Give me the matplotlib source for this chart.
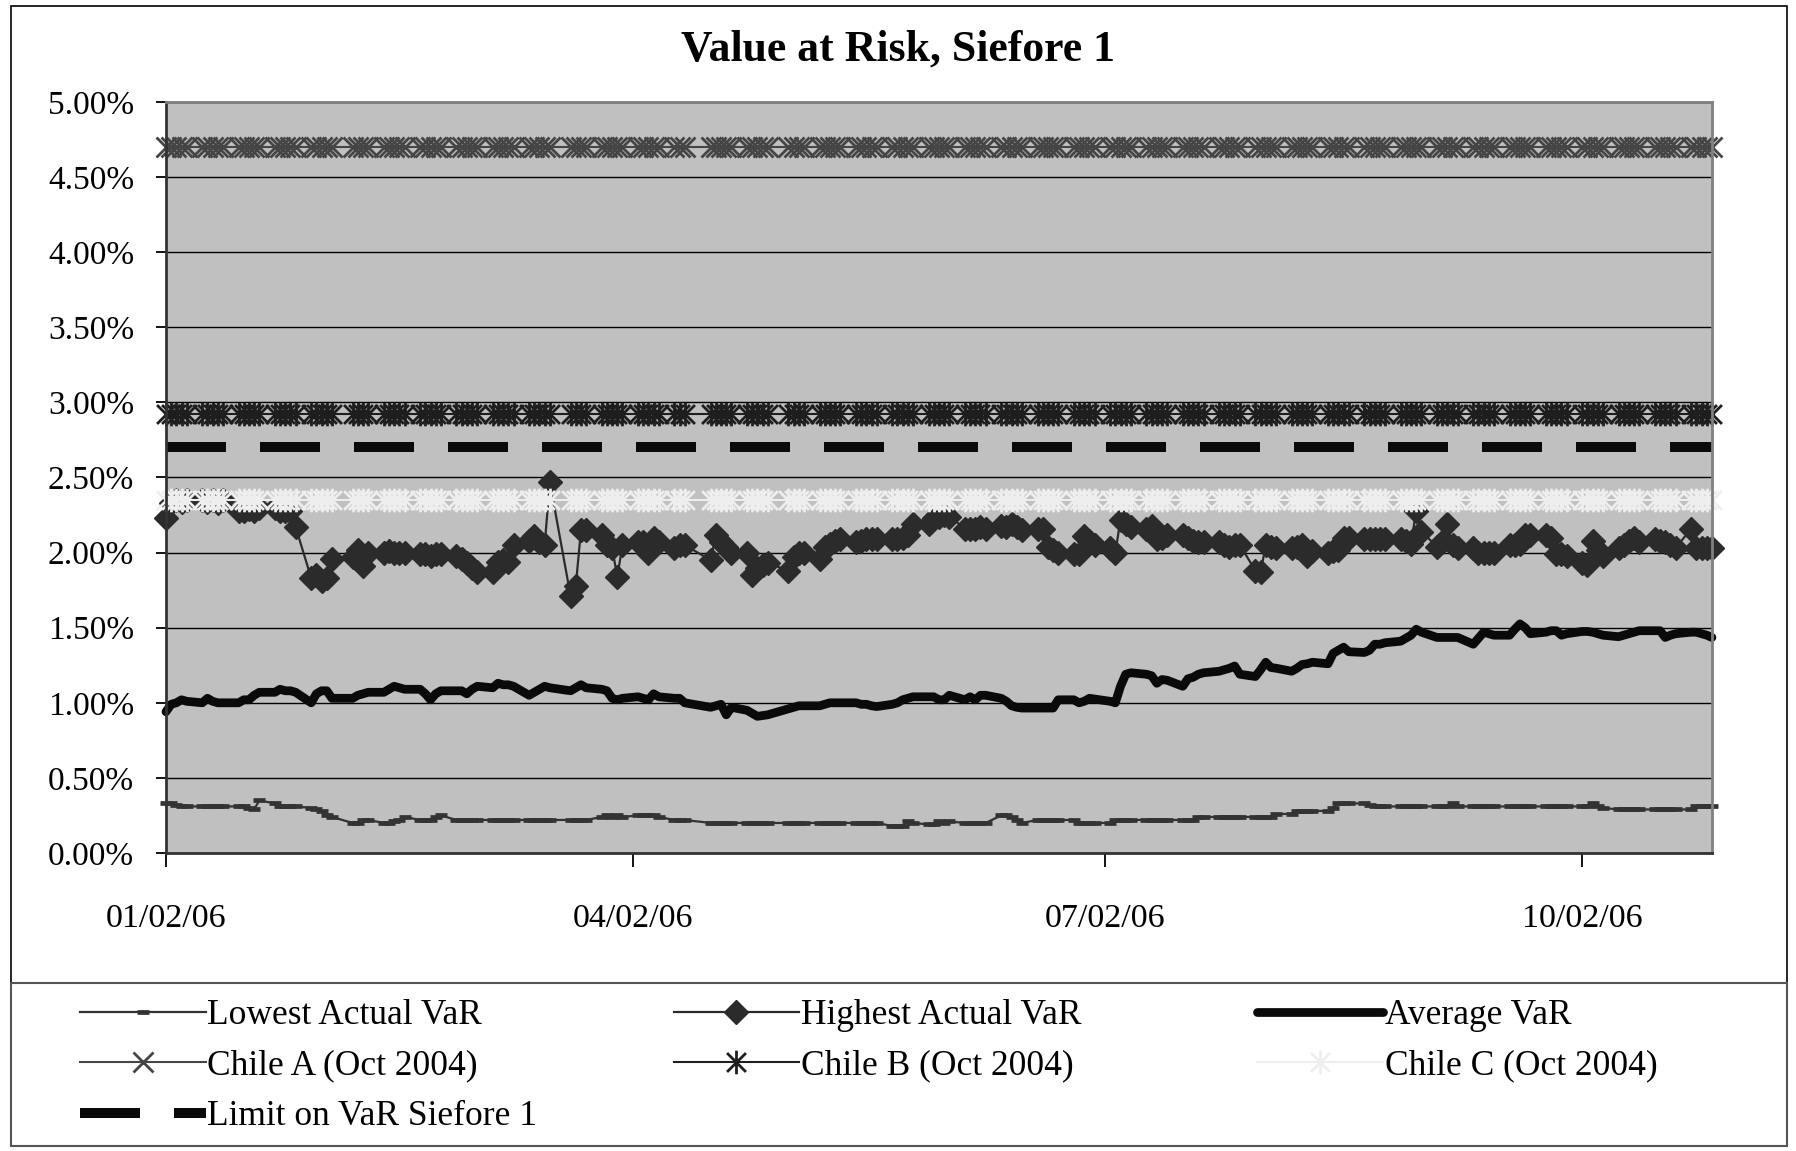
import pandas as pd
import matplotlib
matplotlib.use("Agg")
import matplotlib.pyplot as plt
import matplotlib.dates as mdates
from matplotlib.ticker import PercentFormatter, MultipleLocator
from matplotlib.path import Path
from matplotlib.patches import Rectangle

plt.rcParams['font.family'] = ['Liberation Serif', 'DejaVu Serif']

# trading days, 2006 (market holidays removed)
holidays = ["2006-02-06", "2006-03-20", "2006-04-13", "2006-04-14", "2006-05-01"]
dates = pd.bdate_range("2006-01-02", "2006-10-27")
dates = dates[~dates.isin(pd.to_datetime(holidays))]

# VaR in percent, one row per week
lowest = [
    0.33, 0.33, 0.32, 0.31, 0.31,
    0.31, 0.31, 0.31, 0.31, 0.31,
    0.31, 0.31, 0.30, 0.29, 0.35,
    0.33, 0.31, 0.31, 0.31, 0.31,
    0.30, 0.29, 0.28, 0.25, 0.24,
    0.20, 0.20, 0.22, 0.22,
    0.20, 0.20, 0.21, 0.22, 0.24,
    0.22, 0.22, 0.22, 0.24, 0.25,
    0.22, 0.22, 0.22, 0.22, 0.22,
    0.22, 0.22, 0.22, 0.22, 0.22,
    0.22, 0.22, 0.22, 0.22, 0.22,
    0.22, 0.22, 0.22, 0.22,
    0.24, 0.25, 0.24, 0.25, 0.24,
    0.25, 0.25, 0.25, 0.25, 0.24,
    0.22, 0.22, 0.22,
    0.20, 0.20, 0.20, 0.20, 0.20,
    0.20, 0.20, 0.20, 0.20, 0.20,
    0.20, 0.20, 0.20, 0.20,
    0.20, 0.20, 0.20, 0.20, 0.20,
    0.20, 0.20, 0.20, 0.20, 0.20,
    0.18, 0.18, 0.18, 0.21, 0.20,
    0.19, 0.19, 0.21, 0.20, 0.21,
    0.20, 0.20, 0.20, 0.20, 0.20,
    0.25, 0.25, 0.24, 0.22, 0.20,
    0.22, 0.22, 0.22, 0.22, 0.22,
    0.22, 0.20, 0.20, 0.20, 0.20,
    0.20, 0.22, 0.22, 0.22, 0.22,
    0.22, 0.22, 0.22, 0.22, 0.22,
    0.22, 0.22, 0.22, 0.24, 0.24,
    0.24, 0.24, 0.24, 0.24, 0.24,
    0.24, 0.24, 0.24, 0.24, 0.26,
    0.26, 0.28, 0.28, 0.28, 0.28,
    0.28, 0.30, 0.33, 0.33, 0.33,
    0.33, 0.32, 0.31, 0.31, 0.31,
    0.31, 0.31, 0.31, 0.31, 0.31,
    0.31, 0.31, 0.31, 0.33, 0.31,
    0.31, 0.31, 0.31, 0.31, 0.31,
    0.31, 0.31, 0.31, 0.31, 0.31,
    0.31, 0.31, 0.31, 0.31, 0.31,
    0.31, 0.31, 0.33, 0.31, 0.30,
    0.29, 0.29, 0.29, 0.29, 0.29,
    0.29, 0.29, 0.29, 0.29, 0.29,
    0.29, 0.31, 0.31, 0.31, 0.31,
]

highest = [
    2.23, 2.33, 2.35, 2.34, 2.35,
    2.35, 2.34, 2.35, 2.33, 2.35,
    2.28, 2.28, 2.29, 2.28, 2.30,
    2.30, 2.28, 2.28, 2.28, 2.17,
    1.83, 1.85, 1.81, 1.83, 1.96,
    1.97, 2.02, 1.91, 2.00,
    2.00, 2.01, 2.00, 2.00, 2.00,
    1.99, 1.99, 1.98, 1.99, 1.99,
    1.98, 1.96, 1.93, 1.90, 1.87,
    1.87, 1.94, 1.95, 1.94, 2.05,
    2.08, 2.11, 2.07, 2.05, 2.47,
    1.71, 1.78, 2.15, 2.15,
    2.12, 2.05, 2.03, 1.84, 2.05,
    2.07, 2.07, 2.00, 2.10, 2.07,
    2.03, 2.05, 2.05,
    1.95, 2.12, 2.07, 2.04, 2.00,
    2.00, 1.85, 1.90, 1.92, 1.93,
    1.88, 1.97, 2.00, 2.00,
    1.96, 2.04, 2.06, 2.08, 2.09,
    2.07, 2.08, 2.09, 2.09, 2.09,
    2.09, 2.09, 2.10, 2.12, 2.19,
    2.19, 2.23, 2.24, 2.25, 2.24,
    2.16, 2.16, 2.16, 2.17, 2.16,
    2.18, 2.17, 2.19, 2.17, 2.15,
    2.16, 2.16, 2.04, 2.02, 2.00,
    1.99, 1.99, 2.11, 2.08, 2.05,
    2.03, 2.00, 2.22, 2.19, 2.17,
    2.16, 2.18, 2.09, 2.10, 2.12,
    2.12, 2.10, 2.08, 2.07, 2.07,
    2.07, 2.05, 2.04, 2.05, 2.05,
    1.88, 1.87, 2.05, 2.04, 2.03,
    2.03, 2.04, 2.05, 1.98, 2.01,
    2.00, 2.01, 2.02, 2.10, 2.10,
    2.09, 2.09, 2.09, 2.09, 2.09,
    2.09, 2.08, 2.06, 2.28, 2.14,
    2.04, 2.07, 2.19, 2.05, 2.03,
    2.03, 2.00, 2.00, 2.00, 2.00,
    2.05, 2.05, 2.06, 2.12, 2.12,
    2.12, 2.10, 1.99, 1.99, 1.98,
    1.93, 1.92, 2.08, 2.02, 1.98,
    2.03, 2.05, 2.08, 2.10, 2.07,
    2.09, 2.08, 2.07, 2.05, 2.03,
    2.16, 2.03, 2.03, 2.03, 2.03,
]

average = [
    0.94, 0.99, 1.00, 1.02, 1.01,
    1.00, 1.03, 1.01, 1.00, 1.00,
    1.00, 1.02, 1.02, 1.05, 1.07,
    1.07, 1.09, 1.08, 1.08, 1.07,
    1.00, 1.06, 1.08, 1.08, 1.03,
    1.03, 1.05, 1.06, 1.07,
    1.07, 1.09, 1.11, 1.10, 1.09,
    1.09, 1.06, 1.02, 1.06, 1.08,
    1.08, 1.08, 1.06, 1.09, 1.11,
    1.10, 1.13, 1.12, 1.12, 1.11,
    1.05, 1.07, 1.09, 1.11, 1.10,
    1.08, 1.10, 1.12, 1.10,
    1.09, 1.08, 1.03, 1.02, 1.03,
    1.04, 1.03, 1.02, 1.06, 1.04,
    1.03, 1.03, 1.00,
    0.97, 0.98, 0.99, 0.92, 0.97,
    0.95, 0.93, 0.91, 0.915, 0.92,
    0.96, 0.97, 0.98, 0.98,
    0.98, 0.99, 1.00, 1.00, 1.00,
    1.00, 0.99, 0.99, 0.98, 0.975,
    0.99, 1.00, 1.02, 1.03, 1.04,
    1.04, 1.04, 1.02, 1.02, 1.05,
    1.02, 1.04, 1.02, 1.05, 1.05,
    1.03, 1.01, 0.98, 0.97, 0.965,
    0.965, 0.965, 0.965, 0.965, 1.02,
    1.02, 1.00, 1.01, 1.03, 1.025,
    1.01, 1.00, 1.11, 1.19, 1.20,
    1.19, 1.18, 1.13, 1.155, 1.15,
    1.11, 1.16, 1.17, 1.19, 1.20,
    1.21, 1.22, 1.23, 1.245, 1.19,
    1.175, 1.22, 1.27, 1.235, 1.23,
    1.21, 1.23, 1.255, 1.26, 1.27,
    1.26, 1.33, 1.35, 1.37, 1.34,
    1.335, 1.35, 1.39, 1.39, 1.40,
    1.41, 1.43, 1.45, 1.49, 1.47,
    1.435, 1.435, 1.435, 1.435, 1.435,
    1.39, 1.43, 1.47, 1.46, 1.45,
    1.45, 1.49, 1.525, 1.50, 1.46,
    1.47, 1.48, 1.48, 1.45, 1.46,
    1.475, 1.475, 1.47, 1.46, 1.45,
    1.44, 1.45, 1.46, 1.47, 1.48,
    1.48, 1.48, 1.435, 1.45, 1.46,
    1.47, 1.47, 1.46, 1.45, 1.435,
]

# benchmark levels (percent)
chile_a = 4.70
chile_b = 2.92
chile_c = 2.35
limit_siefore1 = 2.70

assert len(lowest) == len(highest) == len(average) == len(dates)
n = len(dates)

# Excel-style star: an X with a vertical bar through it
star = Path([(-1, -1), (1, 1), (-1, 1), (1, -1), (0, -1.25), (0, 1.25)],
            [Path.MOVETO, Path.LINETO, Path.MOVETO, Path.LINETO,
             Path.MOVETO, Path.LINETO])

fig = plt.figure(figsize=(17.96, 11.51), dpi=100)
ax = fig.add_axes([0.0924, 0.2589, 0.8608, 0.6525])
ax.set_facecolor('#c0c0c0')

h_low, = ax.plot(dates, lowest, color='#333333', lw=1.6, marker='_', ms=8, mew=3.4,
                 clip_on=False, label='Lowest Actual VaR')
h_high, = ax.plot(dates, highest, color='#2b2b2b', lw=1.6, marker='D', ms=12.5,
                  clip_on=False, label='Highest Actual VaR')
h_avg, = ax.plot(dates, average, color='#0a0a0a', lw=6.3, solid_joinstyle='round',
                 solid_capstyle='round', clip_on=False, label='Average VaR')
h_a, = ax.plot(dates, [chile_a] * n, color='#454545', lw=1.5, marker='x', ms=15, mew=2.0,
               clip_on=False, label='Chile A (Oct 2004)')
h_b, = ax.plot(dates, [chile_b] * n, color='#1e1e1e', lw=1.5, marker=star, ms=17, mew=2.0,
               clip_on=False, label='Chile B (Oct 2004)')
h_c, = ax.plot(dates, [chile_c] * n, color='#eeeeee', lw=1.5, marker=star, ms=17, mew=2.0,
               clip_on=False, label='Chile C (Oct 2004)')
h_lim, = ax.plot(dates, [limit_siefore1] * n, color='#0a0a0a', lw=7.2, dashes=(6, 3.4),
                 dash_capstyle='butt', label='Limit on VaR Siefore 1')

ax.set_ylim(0, 5)
ax.yaxis.set_major_locator(MultipleLocator(0.5))
ax.yaxis.set_major_formatter(PercentFormatter(xmax=100, decimals=2))
ax.yaxis.grid(True, color='black', lw=1.0)
ax.set_axisbelow(True)

ax.set_xlim(dates[0], dates[-1])
ax.set_xticks(pd.to_datetime(["2006-01-02", "2006-04-02", "2006-07-02", "2006-10-02"]))
ax.xaxis.set_major_formatter(mdates.DateFormatter('%m/%d/%y'))

ax.tick_params(axis='y', length=7, width=1.3, labelsize=24, pad=16)
ax.tick_params(axis='x', length=10, width=1.3, labelsize=24.5, pad=26)
for s in ax.spines.values():
    s.set_color('#808080')
    s.set_linewidth(2)
ax.spines['left'].set_color('#333333')
ax.spines['bottom'].set_color('#333333')

fig.text(0.5, 0.957, 'Value at Risk, Siefore 1', ha='center', va='center',
         fontsize=31.5, fontweight='bold')

# chart border and legend box
fig.add_artist(Rectangle((0.006, 0.004), 0.989, 0.991, transform=fig.transFigure,
                         fill=False, ec='black', lw=1.2))
fig.add_artist(Rectangle((0.006, 0.004), 0.989, 0.142, transform=fig.transFigure,
                         fill=False, ec='#555555', lw=1.5))

# one legend per column so each column starts where it should
columns = [(0.0445, [h_low, h_a, h_lim]),
           (0.375, [h_high, h_b]),
           (0.700, [h_avg, h_c])]
for x0, hs in columns:
    leg = fig.legend(handles=hs, labels=[h.get_label() for h in hs],
                     loc='upper left', bbox_to_anchor=(x0, 0.132), frameon=False,
                     fontsize=25.5, handlelength=3.55, handletextpad=0.05,
                     labelspacing=0.5, borderpad=0, borderaxespad=0)

fig.savefig('out.png', dpi=100)
